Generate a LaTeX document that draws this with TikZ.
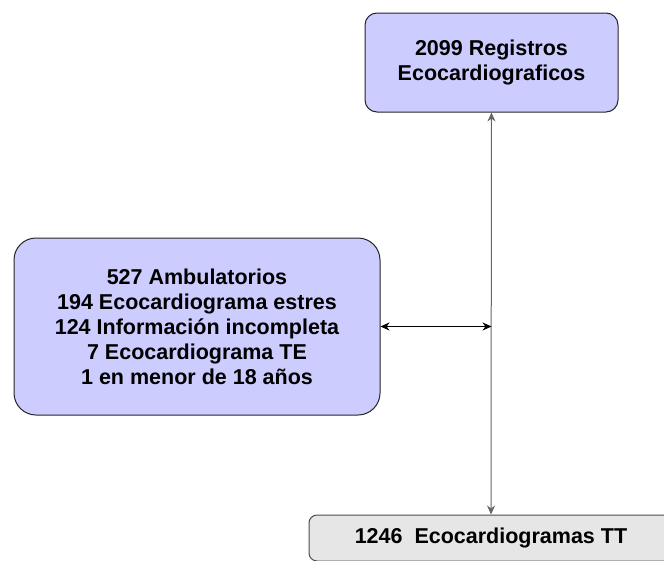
\documentclass[tikz,border=0pt]{standalone}
\usepackage{fontspec}
\setmainfont{Liberation Sans}
\usetikzlibrary{arrows.meta}
\definecolor{lilla}{HTML}{CCCCFF}
\definecolor{grigio}{HTML}{E6E6E6}
\tikzset{
  box/.style={draw=black!85, line width=1pt, align=center, inner sep=0pt,
    font=\bfseries\fontsize{21.5}{25}\selectfont},
  freccia/.style={line width=1pt, {Stealth[length=9pt,width=8pt]}-{Stealth[length=9pt,width=8pt]}}
}
\begin{document}
\begin{tikzpicture}[x=1pt,y=1pt]
        % Area del disegno
        \useasboundingbox (0,0) rectangle (664,-560);

        % Disegna i riquadri
        \node[box, fill=lilla, rounded corners=12pt, minimum width=253pt, minimum height=99pt]
            (reg) at (491.5,-62.5) {2099 Registros\\Ecocardiograficos};
        \node[box, fill=lilla, rounded corners=22pt, minimum width=366pt, minimum height=177pt]
            (excl) at (197,-326.5) {527 Ambulatorios\\194 Ecocardiograma estres\\124 Información incompleta\\7 Ecocardiograma TE\\1 en menor de 18 años};
        \node[box, draw=black!70, fill=grigio, rounded corners=8pt, minimum width=364pt, minimum height=46pt]
            (tt) at (491,-538) {1246\ \ Ecocardiogramas TT};

        % Disegna le frecce
        \coordinate (incrocio) at (reg.south |- excl.east);
        \draw[freccia, black!60] (reg) -- (tt); % Linea verticale
        \draw[freccia] (excl) -- (incrocio); % Linea orizzontale
    \end{tikzpicture}
\end{document}
